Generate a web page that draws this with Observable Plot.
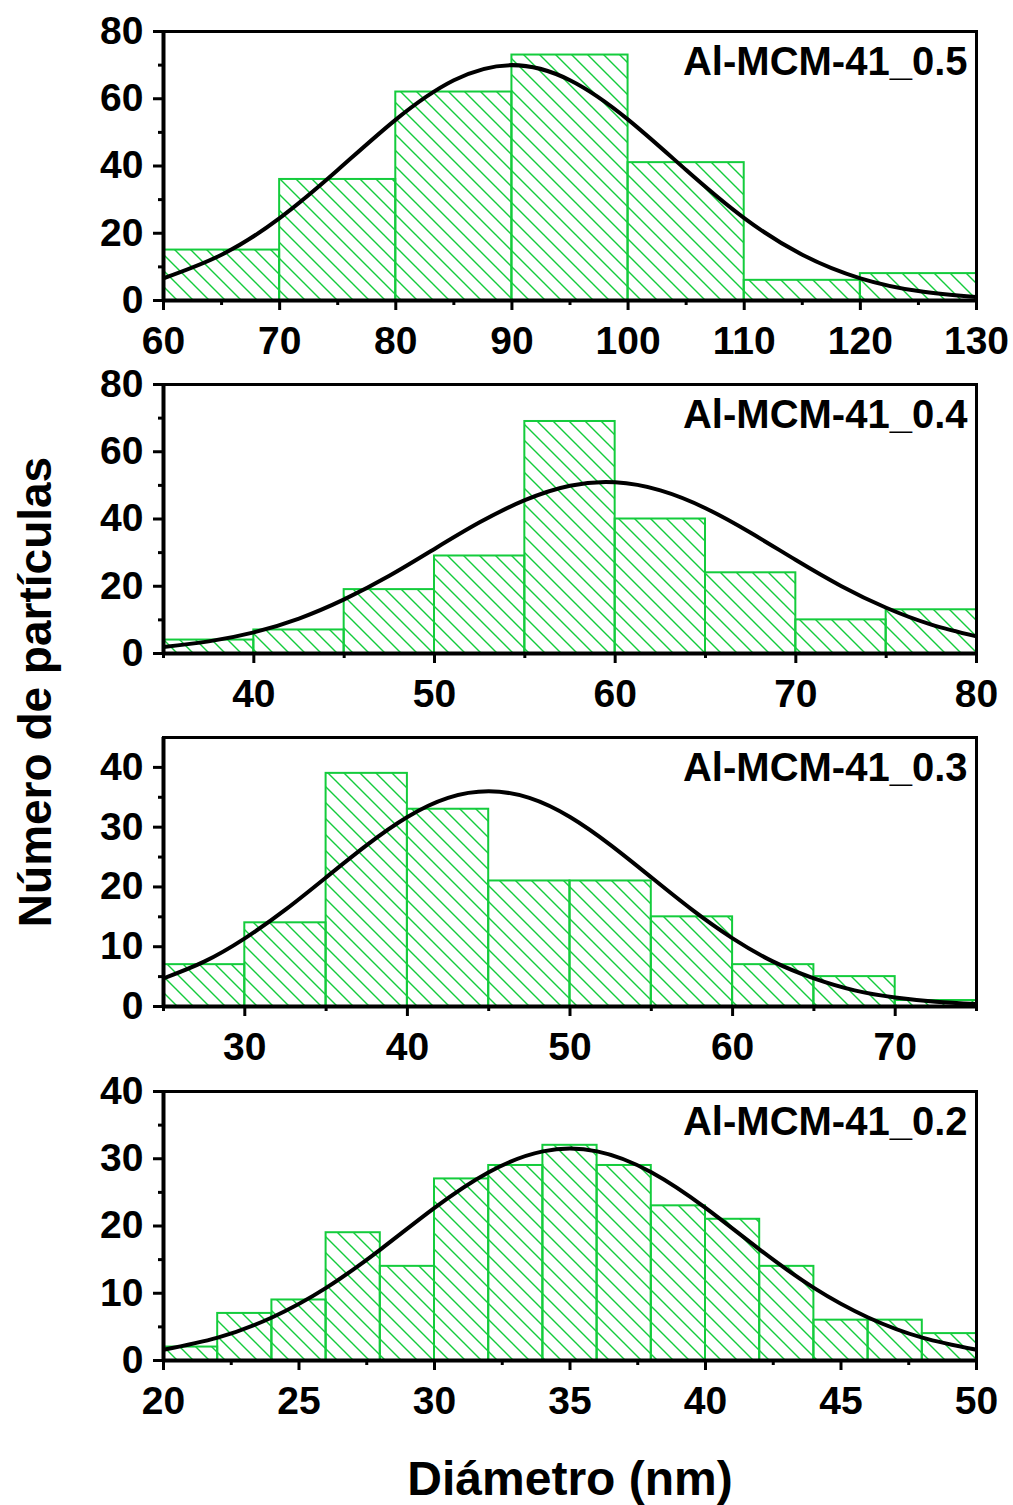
<!DOCTYPE html>
<html><head><meta charset="utf-8">
<script src="https://cdn.jsdelivr.net/npm/d3@7"></script>
<script src="https://cdn.jsdelivr.net/npm/@observablehq/plot@0.6"></script>
<style>
body{margin:0;background:#fff;}
#wrap{position:relative;width:1013px;height:1505px;font-family:"Liberation Sans",Arial,sans-serif;font-weight:bold;color:#000;}
.panel{position:absolute;left:0;}
#ytitle{position:absolute;left:35px;top:692px;transform:translate(-50%,-50%) rotate(-90deg);font-size:46px;white-space:nowrap;}
#xtitle{position:absolute;left:570px;top:1478px;transform:translate(-50%,-50%);font-size:48px;white-space:nowrap;}
</style></head>
<body><div id="wrap"><div id="ytitle">Número de partículas</div><div id="xtitle">Diámetro (nm)</div></div>
<script>
// ---- data ----
const labels = ["Al-MCM-41_0.5", "Al-MCM-41_0.4", "Al-MCM-41_0.3", "Al-MCM-41_0.2"];

const edges05 = [60, 70, 80, 90, 100, 110, 120, 130];
const counts05 = [15, 36, 62, 73, 41, 6, 8];
const fitX05 = [60, 65, 70, 75, 80, 85, 90, 95, 100, 105, 110, 115, 120, 125, 130];
const fitY05 = [6.6, 13.6, 24.5, 38.8, 53.8, 65.5, 70, 65.5, 53.8, 38.8, 24.5, 13.6, 6.6, 2.8, 1.0];
const xTicks05 = [60, 70, 80, 90, 100, 110, 120, 130];
const xMinor05 = [65, 75, 85, 95, 105, 115, 125];
const yTicks05 = [0, 20, 40, 60, 80];
const yMinor05 = [10, 30, 50, 70];

const edges04 = [35, 40, 45, 50, 55, 60, 65, 70, 75, 80];
const counts04 = [4, 7, 19, 29, 69, 40, 24, 10, 13];
const fitX04 = [35, 37.5, 40, 42.5, 45, 47.5, 50, 52.5, 55, 57.5, 60, 62.5, 65, 67.5, 70, 72.5, 75, 77.5, 80];
const fitY04 = [1.9, 3.6, 6.3, 10.4, 16.1, 23.1, 31.1, 39.0, 45.6, 49.9, 50.9, 48.5, 43.2, 35.9, 27.8, 20.1, 13.6, 8.6, 5.1];
const xTicks04 = [40, 50, 60, 70, 80];
const xMinor04 = [35, 45, 55, 65, 75];
const yTicks04 = [0, 20, 40, 60, 80];
const yMinor04 = [10, 30, 50, 70];

const edges03 = [25, 30, 35, 40, 45, 50, 55, 60, 65, 70, 75];
const counts03 = [7, 14, 39, 33, 21, 21, 15, 7, 5, 1];
const fitX03 = [25, 27.5, 30, 32.5, 35, 37.5, 40, 42.5, 45, 47.5, 50, 52.5, 55, 57.5, 60, 62.5, 65, 67.5, 70, 72.5, 75];
const fitY03 = [4.7, 7.5, 11.4, 16.2, 21.6, 27.0, 31.7, 34.9, 36, 34.9, 31.7, 27.0, 21.6, 16.2, 11.4, 7.5, 4.7, 2.7, 1.5, 0.8, 0.4];
const xTicks03 = [30, 40, 50, 60, 70];
const xMinor03 = [25, 35, 45, 55, 65, 75];
const yTicks03 = [0, 10, 20, 30, 40];
const yMinor03 = [5, 15, 25, 35];

const edges02 = [20, 22, 24, 26, 28, 30, 32, 34, 36, 38, 40, 42, 44, 46, 48, 50];
const counts02 = [2, 7, 9, 19, 14, 27, 29, 32, 29, 23, 21, 14, 6, 6, 4];
const fitX02 = [20, 22, 24, 26, 28, 30, 32, 34, 36, 38, 40, 42, 44, 46, 48, 50];
const fitY02 = [1.6, 3.4, 6.4, 10.8, 16.5, 22.7, 28.0, 31.1, 31.1, 28.0, 22.7, 16.5, 10.8, 6.4, 3.4, 1.6];
const xTicks02 = [20, 25, 30, 35, 40, 45, 50];
const xMinor02 = [22.5, 27.5, 32.5, 37.5, 42.5, 47.5];
const yTicks02 = [0, 10, 20, 30, 40];
const yMinor02 = [5, 15, 25, 35];

// ---- layout / style ----
const GREEN = "#14cc3c";
const panels = [
  {label: labels[0], edges: edges05, counts: counts05, fx: fitX05, fy: fitY05, xd: [60, 130], yd: [0, 80], xt: xTicks05, xm: xMinor05, yt: yTicks05, ym: yMinor05, top: 31},
  {label: labels[1], edges: edges04, counts: counts04, fx: fitX04, fy: fitY04, xd: [35, 80], yd: [0, 80], xt: xTicks04, xm: xMinor04, yt: yTicks04, ym: yMinor04, top: 384},
  {label: labels[2], edges: edges03, counts: counts03, fx: fitX03, fy: fitY03, xd: [25, 75], yd: [0, 45], xt: xTicks03, xm: xMinor03, yt: yTicks03, ym: yMinor03, top: 737},
  {label: labels[3], edges: edges02, counts: counts02, fx: fitX02, fy: fitY02, xd: [20, 50], yd: [0, 40], xt: xTicks02, xm: xMinor02, yt: yTicks02, ym: yMinor02, top: 1091}
];

const MT = 20, MB = 60, FH = 269;
const wrap = document.getElementById("wrap");

panels.forEach((p, i) => {
  const bars = p.counts.map((c, k) => ({x1: p.edges[k], x2: p.edges[k + 1], count: c}));
  const fit = p.fx.map((x, k) => ({x, y: p.fy[k]}));
  const pid = "hatch" + i;
  const svg = Plot.plot({
    width: 1013,
    height: MT + FH + MB,
    marginLeft: 163,
    marginRight: 37,
    marginTop: MT,
    marginBottom: MB,
    style: {fontFamily: "'Liberation Sans', Arial, sans-serif", fontSize: "39px", fontWeight: "bold", background: "transparent", overflow: "visible", color: "#000"},
    x: {domain: p.xd, label: null},
    y: {domain: p.yd, label: null},
    marks: [
      Plot.rectY(bars, {x1: "x1", x2: "x2", y: "count", fill: `url(#${pid})`, stroke: GREEN, strokeWidth: 2}),
      Plot.line(fit, {x: "x", y: "y", curve: "natural", stroke: "#000", strokeWidth: 4, clip: true}),
      Plot.frame({stroke: "#000", strokeWidth: 3}),
      Plot.ruleX([p.xd[0]], {stroke: "#000", strokeWidth: 4}),
      Plot.ruleY([p.yd[0]], {stroke: "#000", strokeWidth: 4}),
      Plot.axisX(p.xt, {tickSize: 10, tickPadding: 16, strokeWidth: 3, label: null, tickFormat: d => String(d)}),
      Plot.axisX(p.xm, {tickSize: 5, strokeWidth: 3, label: null, tickFormat: () => ""}),
      Plot.axisY(p.yt, {tickSize: 10, tickPadding: 10, strokeWidth: 3, label: null, tickFormat: d => String(d)}),
      Plot.axisY(p.ym, {tickSize: 5, strokeWidth: 3, label: null, tickFormat: () => ""}),
      Plot.text([p.label], {frameAnchor: "top-right", text: d => d, dx: -9, dy: 15, textAnchor: "end", lineAnchor: "top", fontSize: 40, fontWeight: "bold", fill: "#000"})
    ]
  });
  d3.select(svg).insert("defs", ":first-child").html(
    `<pattern id="${pid}" patternUnits="userSpaceOnUse" width="16" height="16">` +
    `<path d="M0,0L16,16M-8,8L8,24M8,-8L24,8" stroke="${GREEN}" stroke-width="1.4" fill="none"/></pattern>`
  );
  svg.classList.add("panel");
  svg.style.position = "absolute";
  svg.style.top = (p.top - MT) + "px";
  svg.style.left = "0px";
  wrap.appendChild(svg);
});
</script>
</body></html>
